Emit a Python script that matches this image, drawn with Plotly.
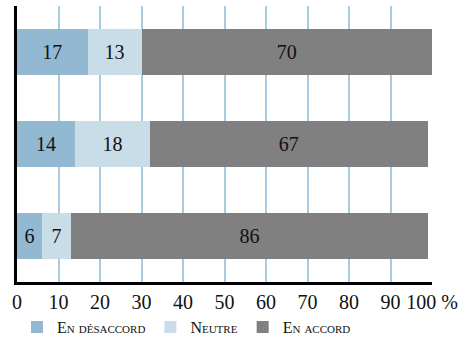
import plotly.graph_objects as go

rows = ["A", "B", "C"]
desaccord = [17, 14, 6]
neutre = [13, 18, 7]
accord = [70, 67, 86]
tick_vals = [0, 10, 20, 30, 40, 50, 60, 70, 80, 90, 100]
tick_text = ["0", "10", "20", "30", "40", "50", "60", "70", "80", "90", "100 %"]

serif = "Liberation Serif"

fig = go.Figure()
for name, vals, color in [
    ("En désaccord", desaccord, "#93b8d2"),
    ("Neutre", neutre, "#c9dde8"),
    ("En accord", accord, "#808080"),
]:
    fig.add_trace(go.Bar(
        y=rows, x=vals, name=name, orientation="h",
        marker=dict(color=color, line=dict(width=0)),
        text=vals, textposition="inside", insidetextanchor="middle",
        textfont=dict(family=serif, size=20, color="#111111"),
        width=0.5,
    ))

fig.update_layout(
    barmode="stack",
    width=465, height=339,
    margin=dict(l=17, r=33, t=6, b=57, autoexpand=False),
    plot_bgcolor="white", paper_bgcolor="white",
    font=dict(family=serif, color="#111111"),
    showlegend=True,
    legend=dict(
        orientation="h", x=0.0, xanchor="left",
        yref="container", y=0.035, yanchor="middle",
        font=dict(family=serif, size=16, variant="small-caps"),
        itemwidth=30, traceorder="normal",
    ),
    uniformtext=dict(minsize=10, mode="show"),
)
fig.update_xaxes(
    range=[0, 100], tickvals=tick_vals, ticktext=tick_text,
    tickfont=dict(family=serif, size=20),
    showgrid=True, gridcolor="#a9cbe0", gridwidth=2,
    showline=True, linecolor="black", linewidth=3,
    zeroline=False, ticks="",
)
fig.update_yaxes(
    range=[2.5, -0.5], showticklabels=False,
    showgrid=False, showline=True, linecolor="black", linewidth=3,
    zeroline=False,
)

# the page's default body margin would shift the chart
fig.write_html("out.html", config={"displayModeBar": False},
               post_script="document.body.style.margin='0';")
